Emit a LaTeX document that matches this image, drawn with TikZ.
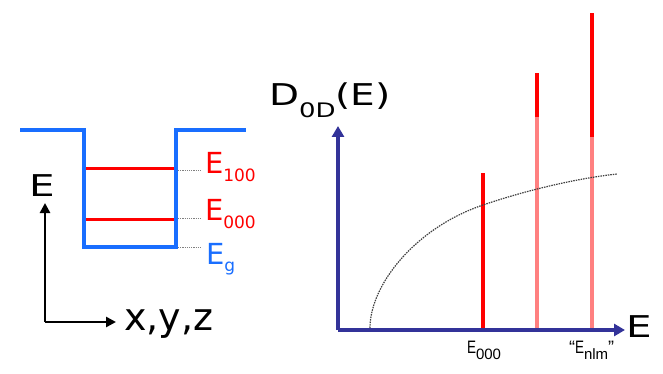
\documentclass[tikz,border=0pt]{standalone}
\usepackage{fontspec}
\usepackage{graphicx}
\setmainfont{DejaVu Sans}
\newfontfamily\arialfont{Liberation Sans}
\usetikzlibrary{arrows.meta}
\definecolor{wellblue}{RGB}{25,110,255}
\definecolor{axnavy}{RGB}{51,51,153}
\definecolor{lvlred}{RGB}{255,0,0}
\definecolor{lvlpink}{RGB}{255,128,128}
\newcommand{\fs}[1]{\fontsize{#1}{#1}\selectfont}
\tikzset{
  lbl/.style={anchor=base west, inner sep=0pt, outer sep=0pt},
  well/.style={draw=wellblue, line width=4.5pt, line join=miter},
  lvl/.style={draw=lvlred, line width=3pt},
  leader/.style={draw=gray, line width=0.8pt, dash pattern=on 1.2pt off 1pt},
  smallax/.style={draw=black, line width=2.5pt, -{Triangle[length=10pt,width=10pt]}},
  bigax/.style={draw=axnavy, line width=4.5pt, -{Triangle[length=11pt,width=12pt]}},
  barred/.style={draw=lvlred, line width=3.5pt},
  barpink/.style={draw=lvlpink, line width=3.5pt},
  dos/.style={draw=black!75, line width=1.2pt, dash pattern=on 1.5pt off 1pt}
}
\begin{document}
\begin{tikzpicture}[x=1pt,y=-1pt]
\useasboundingbox (0,0) rectangle (663,374);
% ---- quantum well ----
\coordinate (wl) at (20,130);
\coordinate (wtl) at (84,130);
\coordinate (wbl) at (84,247);
\coordinate (wbr) at (176,247);
\coordinate (wtr) at (176,130);
\coordinate (wr) at (246,130);
\draw[well] (wl) -- (wtl) -- (wbl) -- (wbr) -- (wtr) -- (wr);
% levels
\coordinate (l1a) at (86,169);  \coordinate (l1b) at (174,169);
\coordinate (l0a) at (86,219);  \coordinate (l0b) at (174,219);
\draw[lvl] (l1a) -- (l1b);
\draw[lvl] (l0a) -- (l0b);
% leaders
\coordinate (d1a) at (178,170); \coordinate (d1b) at (201,170);
\coordinate (d0a) at (178,218); \coordinate (d0b) at (201,218);
\coordinate (dga) at (178,247); \coordinate (dgb) at (201,247);
\draw[leader] (d1a) -- (d1b);
\draw[leader] (d0a) -- (d0b);
\draw[leader] (dga) -- (dgb);
% labels
\node[lbl, text=lvlred] (e100) at (205,174) {\fs{29}E\raisebox{-8pt}{\fs{17}100}};
\node[lbl, text=lvlred] (e000) at (205,220) {\fs{29}E\raisebox{-8pt}{\fs{17}000}};
\node[lbl, text=wellblue] (eg) at (206,264) {\fs{29}E\raisebox{-7pt}{\fs{17}g}};
% small axes
\coordinate (o) at (45,322);
\coordinate (ytip) at (45,203);
\coordinate (xtip) at (116,322);
\draw[smallax] (o) -- (ytip);
\draw[smallax] (o) -- (xtip);
\node[lbl] (eax) at (29,196) {\fs{30}\scalebox{1.35}[1]{E}};
\node[lbl] (xyz) at (124,330) {\fs{38}x,y,z};
% ---- density of states ----
\coordinate (b1a) at (483,330); \coordinate (b1b) at (483,173);
\coordinate (b2a) at (537,330); \coordinate (b2m) at (537,117); \coordinate (b2b) at (537,73);
\coordinate (b3a) at (592,330); \coordinate (b3m) at (592,137); \coordinate (b3b) at (592,13);
\draw[barred] (b1a) -- (b1b);
\draw[barpink] (b2a) -- (b2m);
\draw[barred] (b2m) -- (b2b);
\draw[barpink] (b3a) -- (b3m);
\draw[barred] (b3m) -- (b3b);
\coordinate (c0) at (370,328);
\coordinate (c1) at (483,205);
\coordinate (c2) at (617,174);
\draw[dos] (c0) .. controls (370,285) and (415,228) .. (c1)
                .. controls (530,189) and (580,178) .. (c2);
\coordinate (O) at (338,330);
\coordinate (Ytip) at (338,126);
\coordinate (Xtip) at (625,330);
\draw[bigax] (O) -- (Ytip);
\draw[bigax] (O) -- (Xtip);
\node[lbl] (dlab) at (269,106) {\scalebox{1.3}[1]{\fs{30}D\raisebox{-12pt}{\fs{20}0D}(E)}};
\node[lbl] (Elab) at (626,337) {\fs{30}\scalebox{1.35}[1]{E}};
\node[lbl] (e000b) at (467,353) {\arialfont\fs{18}\scalebox{0.75}[1]{E}\raisebox{-6pt}{\fs{15}000}};
\node[lbl] (enlm) at (569,353) {\arialfont\fs{18}“\scalebox{0.75}[1]{E}\raisebox{-6pt}{\fs{15}nlm}”};
\end{tikzpicture}
\end{document}
